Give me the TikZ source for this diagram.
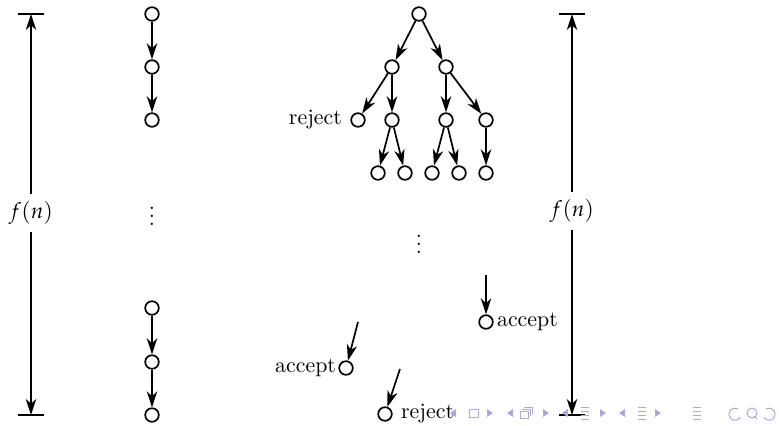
\documentclass[tikz,border=0pt,11pt]{standalone}
\usepackage{amsmath,amssymb}
\usepackage{mathpazo}
\usetikzlibrary{arrows.meta,positioning}

\definecolor{navgray}{RGB}{170,170,215}

\tikzset{
  state/.style={circle,draw,line width=0.85pt,minimum size=6.8pt,inner sep=0pt},
  arr/.style={line width=0.85pt,-{Stealth[length=8pt,width=5.2pt,inset=2.4pt]}},
  tick/.style={line width=0.9pt},
  nav/.style={navgray,line width=0.5pt}
}

\begin{document}
\begin{tikzpicture}[x=0.5pt,y=-0.5pt]
    \useasboundingbox (0,0) rectangle (779,425);

    % height bars
    \coordinate (lt) at (31,14); \coordinate (lb) at (31,415); \node (lf) at (31,213) {$f(n)$};
    \draw[arr] (lf) -- (lt); \draw[arr] (lf) -- (lb);
    \draw[tick] ([xshift=-6.5pt]lt) -- ([xshift=6.5pt]lt); \draw[tick] ([xshift=-6.5pt]lb) -- ([xshift=6.5pt]lb);
    \coordinate (rt) at (572,14); \coordinate (rb) at (572,415); \node (rf) at (572,211) {$f(n)$};
    \draw[arr] (rf) -- (rt); \draw[arr] (rf) -- (rb);
    \draw[tick] ([xshift=-6.5pt]rt) -- ([xshift=6.5pt]rt); \draw[tick] ([xshift=-6.5pt]rb) -- ([xshift=6.5pt]rb);

    % deterministic run
    \node[state] (a1) at (152,14) {}; \node[state] (a2) at (152,67) {}; \node[state] (a3) at (152,120) {};
    \draw[arr] (a1) -- (a2); \draw[arr] (a2) -- (a3);
    \node (adots) at (152,210) {$\vdots$};
    \node[state] (b1) at (152,308) {}; \node[state] (b2) at (152,362) {}; \node[state] (b3) at (152,415) {};
    \draw[arr] (b1) -- (b2); \draw[arr] (b2) -- (b3);

    % nondeterministic tree
    \node[state] (r) at (419,14) {};
    \node[state] (u) at (392,67) {}; \node[state] (v) at (446,67) {};
    \node[state] (w1) at (358,120) {}; \node[state] (w2) at (392,120) {}; \node[state] (w3) at (446,120) {}; \node[state] (w4) at (486,120) {};
    \node[state] (x1) at (378,173) {}; \node[state] (x2) at (405,173) {}; \node[state] (x3) at (432,173) {}; \node[state] (x4) at (459,173) {}; \node[state] (x5) at (486,173) {};
    \draw[arr] (r) -- (u); \draw[arr] (r) -- (v);
    \draw[arr] (u) -- (w1); \draw[arr] (u) -- (w2); \draw[arr] (v) -- (w3); \draw[arr] (v) -- (w4);
    \draw[arr] (w2) -- (x1); \draw[arr] (w2) -- (x2); \draw[arr] (w3) -- (x3); \draw[arr] (w3) -- (x4); \draw[arr] (w4) -- (x5);
    \node[left=4pt of w1,inner sep=0pt] (rej1) {reject};
    \node (tdots) at (419,238) {$\vdots$};

    % leaves deep down
    \node[state] (p) at (486,322) {}; \coordinate (pin) at (486,275);
    \node[right=1.5pt of p,inner sep=0pt] (acc1) {accept};
    \draw[arr] (pin) -- (p);
    \node[state] (q) at (346,368) {}; \coordinate (qin) at (358,322);
    \node[left=1pt of q,inner sep=0pt] (acc2) {accept};
    \draw[arr] (qin) -- (q);
    \node[state] (s) at (385,414) {}; \coordinate (sin) at (400,369);
    \node[right=4pt of s,inner sep=0pt] (rej2) {reject};
    \draw[arr] (sin) -- (s);

    % beamer navigation symbols
    \fill[navgray] (456,409) -- (456,417) -- (450,413) -- cycle; \draw[nav] (469,409) rectangle (478,417); \fill[navgray] (487,409) -- (487,417) -- (493,413) -- cycle;
    \fill[navgray] (513,409) -- (513,417) -- (507,413) -- cycle; \draw[nav] (520,411) rectangle (528,418); \draw[nav] (522,409) -- (530,409) -- (530,416); \draw[nav] (524,407) -- (532,407) -- (532,414); \fill[navgray] (543,409) -- (543,417) -- (549,413) -- cycle;
    \fill[navgray] (568,409) -- (568,417) -- (562,413) -- cycle; \draw[nav] (581,407) -- (589,407) (581,411) -- (589,411) (581,415) -- (589,415) (581,419) -- (589,419); \fill[navgray] (600,409) -- (600,417) -- (606,413) -- cycle;
    \fill[navgray] (625,409) -- (625,417) -- (619,413) -- cycle; \draw[nav] (638,407) -- (646,407) (638,411) -- (646,411) (638,415) -- (646,415) (638,419) -- (646,419); \fill[navgray] (655,409) -- (655,417) -- (661,413) -- cycle;
    \draw[nav] (693,407) -- (701,407) (693,411) -- (701,411) (693,415) -- (701,415) (693,419) -- (701,419);
    \draw[nav] (738,409) arc[start angle=60,end angle=330,radius=3pt]; \draw[nav] (752,413) circle[radius=2.5pt] (754,416) -- (757,419); \draw[nav] (766,409) arc[start angle=120,end angle=-150,radius=3pt];
\end{tikzpicture}
\end{document}
